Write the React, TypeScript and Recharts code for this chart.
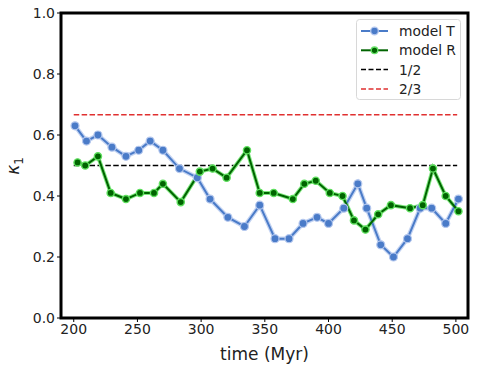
import React from "react";
import {
  LineChart,
  Line,
  XAxis,
  YAxis,
  ReferenceArea,
} from "recharts";

// model T
const tT = [201, 210, 219, 230, 241, 251, 260, 270, 283, 297, 307, 321, 334, 346, 358, 369, 380, 391, 400, 412, 423, 430, 441, 451, 462, 472, 481, 492, 502];
const kT = [0.63, 0.58, 0.6, 0.56, 0.53, 0.55, 0.58, 0.55, 0.49, 0.46, 0.39, 0.33, 0.3, 0.37, 0.26, 0.26, 0.31, 0.33, 0.31, 0.36, 0.44, 0.36, 0.24, 0.2, 0.26, 0.36, 0.36, 0.31, 0.39];

// model R
const tR = [203, 209, 219, 229, 241, 252, 263, 270, 284, 299, 309, 320, 336, 346, 357, 372, 381, 390, 401, 411, 420, 429, 439, 449, 464, 474, 482, 492, 502];
const kR = [0.51, 0.5, 0.53, 0.41, 0.39, 0.41, 0.41, 0.44, 0.38, 0.48, 0.49, 0.46, 0.55, 0.41, 0.41, 0.39, 0.44, 0.45, 0.41, 0.4, 0.32, 0.29, 0.34, 0.37, 0.36, 0.37, 0.49, 0.4, 0.35];

const refSpan = [200, 501];
const half = 0.5;
const twoThirds = 2 / 3;

const xTicks = [200, 250, 300, 350, 400, 450, 500];
const yTicks = [0, 0.2, 0.4, 0.6, 0.8, 1.0];

const dataT = tT.map((t, i) => ({ t, v: kT[i] }));
const dataR = tR.map((t, i) => ({ t, v: kR[i] }));
const dataHalf = refSpan.map((t) => ({ t, v: half }));
const dataTwo = refSpan.map((t) => ({ t, v: twoThirds }));

const FONT = "DejaVu Sans";
const BLUE = "#4a7bc8";
const GREEN = "#006400";

function LegendBox() {
  const rows = [
    { name: "model T", color: BLUE, dot: true, dash: undefined, halo: "#b5c8ee" },
    { name: "model R", color: GREEN, dot: true, dash: undefined, halo: "#66e066" },
    { name: "1/2", color: "#000", dot: false, dash: "5 2.5" },
    { name: "2/3", color: "#e03030", dot: false, dash: "5 2.5" },
  ];
  return (
    <svg width={106} height={82} style={{ display: "block" }}>
      <rect x={0.5} y={0.5} width={104} height={80} rx={3} fill="#fff" stroke="#d8d8d8" />
      {rows.map((r, i) => {
        const y = 12 + i * 19.3;
        return (
          <g key={r.name}>
            <line x1={5} x2={32} y1={y} y2={y} stroke={r.color} strokeWidth={r.dot ? 2 : 1.5} strokeDasharray={r.dash} />
            {r.dot && <circle cx={18.5} cy={y} r={r.name === "model T" ? 3.8 : 3.3} fill={r.color} stroke={r.halo} strokeWidth={1.3} />}
            <text x={43} y={y + 5} fontSize={13.8} fontFamily={FONT} fill="#222">
              {r.name}
            </text>
          </g>
        );
      })}
    </svg>
  );
}

const KappaLabel = () => (
  <text x={19} y={166} transform="rotate(-90 19 166)" textAnchor="middle" fontFamily={FONT} fontSize={17} fill="#222">
    <tspan fontStyle="italic">κ</tspan>
    <tspan fontSize={12} dy={4}>1</tspan>
  </text>
);

export default function App() {
  return (
    <div style={{ position: "absolute", left: 0, top: 0, width: 479, height: 369, background: "#fff" }}>
      <LineChart width={479} height={369} margin={{ top: 13, right: 11, bottom: 0, left: 0 }}>
        <XAxis
          dataKey="t"
          type="number"
          domain={[190, 509.5]}
          ticks={xTicks}
          allowDuplicatedCategory={false}
          axisLine={false}
          tickLine={{ stroke: "#000", strokeWidth: 1 }}
          tickSize={4}
          height={51}
          tick={{ fontFamily: FONT, fontSize: 14, fill: "#222" }}
          label={{ value: "time (Myr)", position: "insideBottom", offset: 9, fontFamily: FONT, fontSize: 17, fill: "#222" }}
        />
        <YAxis
          type="number"
          domain={[0, 1]}
          ticks={yTicks}
          width={61}
          axisLine={false}
          tickLine={{ stroke: "#000", strokeWidth: 1 }}
          tickSize={4}
          tickFormatter={(v: number) => v.toFixed(1)}
          tick={{ fontFamily: FONT, fontSize: 14, fill: "#222" }}
          label={<KappaLabel />}
        />
        <Line data={dataTwo} dataKey="v" stroke="#e03030" strokeWidth={1.5} strokeDasharray="5.5 2.4" dot={false} isAnimationActive={false} legendType="none" />
        <Line data={dataHalf} dataKey="v" stroke="#000" strokeWidth={1.5} strokeDasharray="5.5 2.4" dot={false} isAnimationActive={false} legendType="none" />
        {/* soft halos under the model lines */}
        <Line data={dataT} dataKey="v" stroke="#c3d3f2" strokeWidth={4.5} dot={false} isAnimationActive={false} legendType="none" />
        <Line data={dataR} dataKey="v" stroke="#7ee87e" strokeWidth={4} dot={false} isAnimationActive={false} legendType="none" />
        <Line
          data={dataT}
          dataKey="v"
          stroke={BLUE}
          strokeWidth={2}
          dot={{ r: 4, fill: BLUE, stroke: "#b5c8ee", strokeWidth: 1.2 }}
          isAnimationActive={false}
          legendType="none"
        />
        <Line
          data={dataR}
          dataKey="v"
          stroke={GREEN}
          strokeWidth={2}
          dot={{ r: 3.6, fill: GREEN, stroke: "#5ee05e", strokeWidth: 1.4 }}
          isAnimationActive={false}
          legendType="none"
        />
        <ReferenceArea x1={190} x2={509.5} y1={0} y2={1} fill="none" stroke="#000" strokeWidth={3} ifOverflow="visible" />
      </LineChart>
      <div style={{ position: "absolute", left: 356, top: 19 }}>
        <LegendBox />
      </div>
    </div>
  );
}
